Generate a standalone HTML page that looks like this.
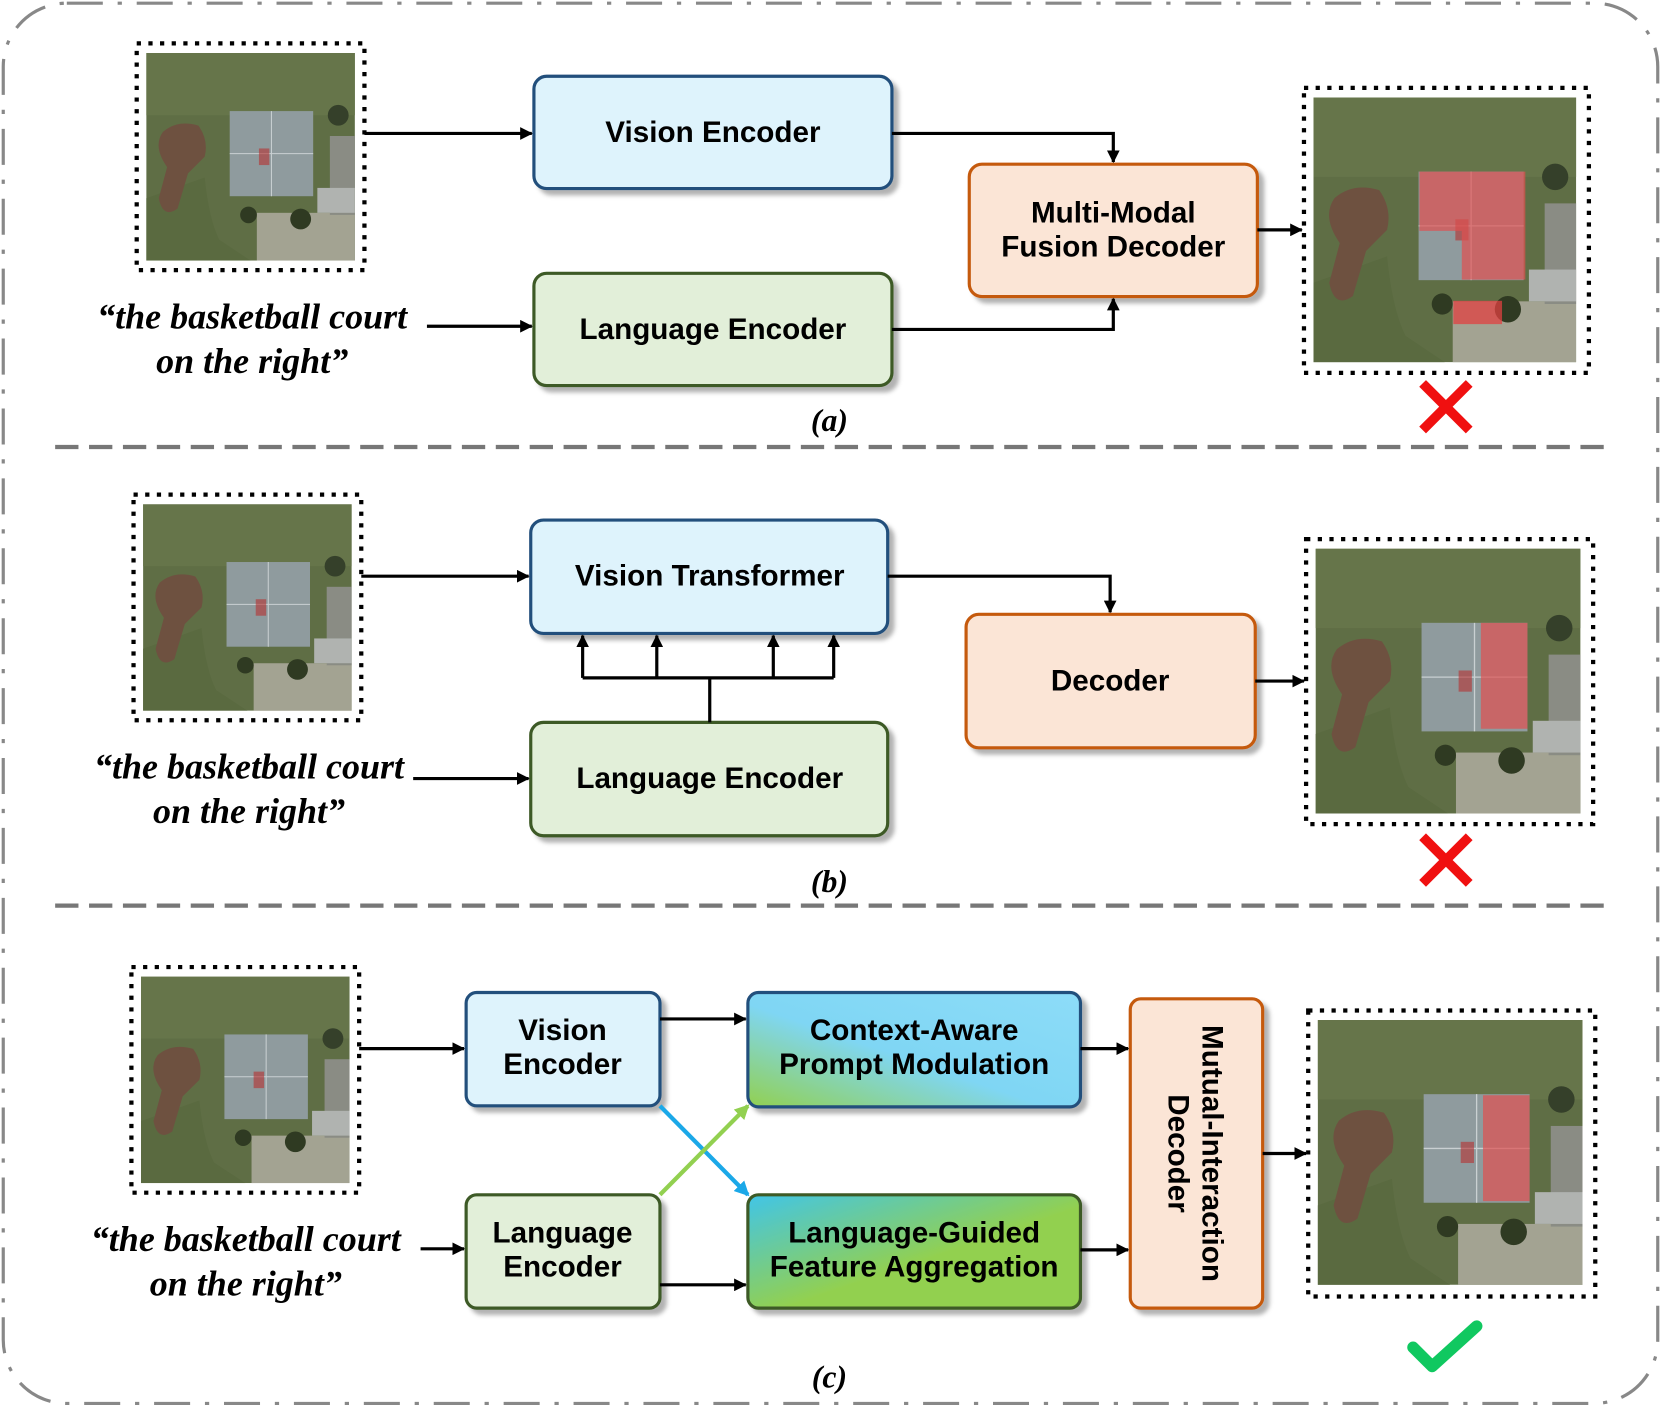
<!DOCTYPE html>
<html><head><style>html,body{margin:0;padding:0;background:#fff}svg{display:block}</style></head><body>
<svg width="1661" height="1413" viewBox="0 0 1568 1334" xmlns="http://www.w3.org/2000/svg">
<defs>
<symbol id="sat" viewBox="0 0 100 100" preserveAspectRatio="none">
<rect width="100" height="100" fill="#5f6e45"/>
<rect x="0" y="0" width="100" height="30" fill="#66754a"/>
<path d="M28 60 Q30 80 35 90 L50 100 L0 100 L0 70Z" fill="#5a6a40"/>
<rect x="53" y="77" width="47" height="23" fill="#a3a392"/>
<rect x="88" y="40" width="12" height="38" fill="#8a8c84"/>
<rect x="82" y="65" width="18" height="12" fill="#b0b3b0"/>
<path d="M8 38 Q15 32 25 35 Q30 42 28 50 L20 58 L15 75 Q8 80 6 70 L10 55 Q3 45 8 38Z" fill="#6e5140"/>
<rect x="40" y="28" width="40" height="41" fill="#8f9b9e"/>
<path d="M40 48.5 H80 M60 28 V69" stroke="#c9d0d2" stroke-width="0.5" fill="none"/>
<rect x="54" y="46" width="5" height="8" fill="#b63030" opacity="0.6"/>
<circle cx="74" cy="80" r="5" fill="#2f3a22"/>
<circle cx="49" cy="78" r="4" fill="#2f3a22"/>
<circle cx="92" cy="30" r="5" fill="#35402a"/>
</symbol>
<linearGradient id="g1" x1="0" y1="1" x2="1" y2="0"><stop offset="0" stop-color="#92d050"/><stop offset="0.45" stop-color="#7fd6f4"/><stop offset="1" stop-color="#8ddcf8"/></linearGradient>
<linearGradient id="g2" x1="0" y1="0" x2="1" y2="1"><stop offset="0" stop-color="#41c5e8"/><stop offset="0.55" stop-color="#92d050"/><stop offset="1" stop-color="#92d050"/></linearGradient>
<filter id="sh" x="-10%" y="-10%" width="130%" height="130%"><feDropShadow dx="5" dy="5" stdDeviation="2" flood-color="#000" flood-opacity="0.3"/></filter>
<marker id="ar" markerWidth="12" markerHeight="12" refX="11" refY="6" orient="auto" markerUnits="userSpaceOnUse"><path d="M0 0 L12 6 L0 12Z" fill="#000"/></marker>
<marker id="arb" markerWidth="14" markerHeight="14" refX="12" refY="7" orient="auto" markerUnits="userSpaceOnUse"><path d="M0 0 L14 7 L0 14Z" fill="#1ba8e8"/></marker>
<marker id="arg" markerWidth="14" markerHeight="14" refX="12" refY="7" orient="auto" markerUnits="userSpaceOnUse"><path d="M0 0 L14 7 L0 14Z" fill="#92d050"/></marker>
</defs>
<rect x="3" y="3" width="1562" height="1322" rx="60" fill="none" stroke="#888" stroke-width="3" stroke-dasharray="34 14 4 14"/>
<g stroke="#777" stroke-width="4" stroke-dasharray="22 10"><line x1="52" y1="422" x2="1518" y2="422"/><line x1="52" y1="855" x2="1518" y2="855"/></g>

<g font-family="Liberation Sans, sans-serif" font-weight="bold" font-size="28" text-anchor="middle" fill="#000">
<use href="#sat" x="138" y="50" width="197" height="196"/>
<rect x="129" y="41" width="215" height="214" fill="none" stroke="#000" stroke-width="4" stroke-dasharray="4 7"/>
<rect x="504" y="72" width="338" height="106" rx="12" fill="#def3fc" stroke="#24507c" stroke-width="3" filter="url(#sh)"/>
<text x="673" y="134">Vision Encoder</text>
<rect x="504" y="258" width="338" height="106" rx="12" fill="#e2efd9" stroke="#3d5a25" stroke-width="3" filter="url(#sh)"/>
<text x="673" y="320">Language Encoder</text>
<rect x="915" y="155" width="272" height="125" rx="12" fill="#fbe5d6" stroke="#c55a11" stroke-width="3" filter="url(#sh)"/>
<text x="1051" y="210">Multi-Modal</text><text x="1051" y="242">Fusion Decoder</text>
<use href="#sat" x="1240" y="92" width="248" height="250"/>
<path d="M1340 162 h100 v102 h-60 v-46 h-40z" fill="#e05050" opacity="0.7"/>
<rect x="1372" y="284" width="46" height="22" fill="#e04040" opacity="0.75"/>
<rect x="1231" y="83" width="269" height="269" fill="none" stroke="#000" stroke-width="4" stroke-dasharray="4 7"/>
<path d="M1343 362 L1387 406 M1387 362 L1343 406" stroke="#f01010" stroke-width="9"/>
<use href="#sat" x="135" y="476" width="197" height="195"/>
<rect x="126" y="467" width="215" height="213" fill="none" stroke="#000" stroke-width="4" stroke-dasharray="4 7"/>
<rect x="501" y="491" width="337" height="107" rx="12" fill="#def3fc" stroke="#24507c" stroke-width="3" filter="url(#sh)"/>
<text x="670" y="553">Vision Transformer</text>
<rect x="501" y="682" width="337" height="107" rx="12" fill="#e2efd9" stroke="#3d5a25" stroke-width="3" filter="url(#sh)"/>
<text x="670" y="744">Language Encoder</text>
<rect x="912" y="580" width="273" height="126" rx="12" fill="#fbe5d6" stroke="#c55a11" stroke-width="3" filter="url(#sh)"/>
<text x="1048" y="652">Decoder</text>
<use href="#sat" x="1242" y="518" width="250" height="250"/>
<path d="M1398 588 h44 v100 h-44z" fill="#e05050" opacity="0.7"/>
<rect x="1233" y="509" width="271" height="269" fill="none" stroke="#000" stroke-width="4" stroke-dasharray="4 7"/>
<path d="M1343 790 L1387 834 M1387 790 L1343 834" stroke="#f01010" stroke-width="9"/>
<use href="#sat" x="133" y="922" width="197" height="195"/>
<rect x="124" y="913" width="215" height="213" fill="none" stroke="#000" stroke-width="4" stroke-dasharray="4 7"/>
<rect x="440" y="937" width="183" height="107" rx="10" fill="#def3fc" stroke="#24507c" stroke-width="3" filter="url(#sh)"/>
<text x="531" y="982">Vision</text><text x="531" y="1014">Encoder</text>
<rect x="440" y="1128" width="183" height="107" rx="10" fill="#e2efd9" stroke="#3d5a25" stroke-width="3" filter="url(#sh)"/>
<text x="531" y="1173">Language</text><text x="531" y="1205">Encoder</text>
<rect x="706" y="937" width="314" height="108" rx="10" fill="url(#g1)" stroke="#24507c" stroke-width="3" filter="url(#sh)"/>
<text x="863" y="982">Context-Aware</text><text x="863" y="1014">Prompt Modulation</text>
<rect x="706" y="1128" width="314" height="107" rx="10" fill="url(#g2)" stroke="#3d5a25" stroke-width="3" filter="url(#sh)"/>
<text x="863" y="1173">Language-Guided</text><text x="863" y="1205">Feature Aggregation</text>
<rect x="1067" y="943" width="125" height="292" rx="10" fill="#fbe5d6" stroke="#c55a11" stroke-width="3" filter="url(#sh)"/>
<text transform="translate(1129 1089) rotate(90)"><tspan x="0" y="-6">Mutual-Interaction</tspan><tspan x="0" y="26">Decoder</tspan></text>
<use href="#sat" x="1244" y="963" width="250" height="250"/>
<path d="M1400 1034 h44 v100 h-44z" fill="#e05050" opacity="0.7"/>
<rect x="1235" y="954" width="271" height="270" fill="none" stroke="#000" stroke-width="4" stroke-dasharray="4 7"/>
<path d="M1334 1272 L1352 1290 L1394 1252" stroke="#10c860" stroke-width="11" fill="none" stroke-linecap="round" stroke-linejoin="round"/>
</g>

<g font-family="Liberation Serif, serif" font-style="italic" font-weight="bold" font-size="34" text-anchor="middle">
<text x="238" y="310">“the basketball court</text><text x="238" y="352">on the right”</text>
<text x="235" y="735">“the basketball court</text><text x="235" y="777">on the right”</text>
<text x="232" y="1181">“the basketball court</text><text x="232" y="1223">on the right”</text>
</g>
<g font-family="Liberation Serif, serif" font-style="italic" font-weight="bold" font-size="30" text-anchor="middle">
<text x="783" y="407">(a)</text><text x="783" y="842">(b)</text><text x="783" y="1310">(c)</text>
</g>

<g stroke="#000" stroke-width="3" fill="none" marker-end="url(#ar)">
<path d="M344 126 H502"/>
<path d="M403 308 H502"/>
<path d="M842 126 H1051 V153"/>
<path d="M842 311 H1051 V282"/>
<path d="M1187 217 H1229"/>
<path d="M341 544 H499"/>
<path d="M390 735 H499"/>
<path d="M838 544 H1048 V578"/>
<path d="M1185 643 H1231"/>
<path d="M550 640 V600"/><path d="M620 640 V600"/><path d="M730 640 V600"/><path d="M787 640 V600"/>
<path d="M339 990 H438"/>
<path d="M397 1179 H438"/>
<path d="M623 962 H704"/>
<path d="M623 1213 H704"/>
<path d="M1020 990 H1065"/>
<path d="M1020 1180 H1065"/>
<path d="M1192 1089 H1233"/>
</g>
<path d="M550 640 H787 M670 640 V682" stroke="#000" stroke-width="3" fill="none"/>
<path d="M623 1044 L706 1128" stroke="#1ba8e8" stroke-width="4" marker-end="url(#arb)"/>
<path d="M623 1128 L706 1044" stroke="#92d050" stroke-width="4" marker-end="url(#arg)"/>
</svg>
</body></html>
